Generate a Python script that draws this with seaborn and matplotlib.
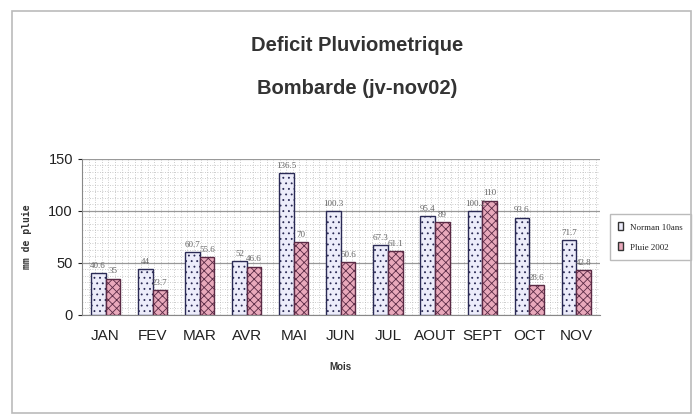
import matplotlib
matplotlib.use("Agg")
import matplotlib.pyplot as plt
import numpy as np
import pandas as pd
import seaborn as sns
from matplotlib.ticker import MultipleLocator, FixedLocator

mois = ['JAN', 'FEV', 'MAR', 'AVR', 'MAI', 'JUN', 'JUL', 'AOUT', 'SEPT', 'OCT', 'NOV']
normale = [40.6, 44, 60.7, 52, 136.5, 100.3, 67.3, 95.4, 100.2, 93.6, 71.7]
pluie = [35, 23.7, 55.6, 46.6, 70, 50.6, 61.1, 89, 110, 28.6, 42.8]
series = ['Norman 10ans', 'Pluie 2002']

df = pd.DataFrame({
    'Mois': mois * 2,
    'val': normale + pluie,
    'serie': [series[0]] * len(mois) + [series[1]] * len(mois),
})

sns.set_style('white')
plt.rcParams['font.family'] = ['Liberation Sans', 'DejaVu Sans']
plt.rcParams['hatch.linewidth'] = 0.6

fig = plt.figure(figsize=(6.97, 4.15), dpi=100)
ax = fig.add_axes([0.1176, 0.241, 0.743, 0.376])

pal = {series[0]: '#ececfa', series[1]: '#e9a9bb'}
sns.barplot(data=df, x='Mois', y='val', hue='serie', palette=pal, width=0.62,
            edgecolor='#2a2a55', linewidth=1.0, saturation=1, ax=ax, legend=True,
            zorder=3)

for i, p in enumerate(ax.patches[:2 * len(mois)]):
    if i >= len(mois):
        p.set_hatch('xxxx')
        p.set_edgecolor('#5a2a45')
        if hasattr(p, 'set_hatchcolor'):
            p.set_hatchcolor('#8a4060')
    else:
        p.set_hatch('...')
        p.set_edgecolor('#2a2a55')
        if hasattr(p, 'set_hatchcolor'):
            p.set_hatchcolor('#b8b8d8')

# value labels
for c in ax.containers:
    for p in c:
        h = p.get_height()
        txt = ('%g' % h)
        ax.text(p.get_x() + p.get_width() / 2, h + 3, txt, ha='center', va='bottom',
                fontsize=6.5, color='#666666', family='Liberation Serif', clip_on=False)

ax.set_ylim(0, 150)
ax.set_xlim(-0.5, 10.5)
ax.yaxis.set_major_locator(MultipleLocator(50))
ax.yaxis.set_minor_locator(MultipleLocator(6.25))
ax.xaxis.set_minor_locator(FixedLocator(np.arange(-0.5, 10.6, 0.14)))
ax.grid(which='minor', color='#bbbbbb', linestyle=(0, (1, 2)), linewidth=0.6, zorder=0)
ax.grid(which='major', axis='y', color='#999999', linewidth=0.9, zorder=1)
ax.grid(which='major', axis='x', visible=False)
ax.set_axisbelow(True)

for s in ['top', 'right']:
    ax.spines[s].set_visible(False)
ax.spines['left'].set_color('#888888')
ax.spines['bottom'].set_color('#888888')

ax.tick_params(axis='x', which='both', length=0, labelsize=11, pad=10, colors='#222222')
ax.tick_params(axis='y', which='major', length=3, labelsize=10.5, colors='#222222', left=True)
ax.tick_params(axis='y', which='minor', length=0)
for t in ax.get_xticklabels():
    t.set_fontstretch('condensed')

ax.set_xlabel('Mois', fontsize=7, fontweight='bold', labelpad=14, color='#333333')
ax.set_ylabel('mm de pluie', fontsize=7, fontweight='bold', labelpad=12,
              color='#333333', family='DejaVu Sans Mono')

leg = ax.legend(loc='center left', bbox_to_anchor=(1.01, 0.5), fontsize=6.5,
                frameon=True, fancybox=False, edgecolor='#aaaaaa', handlelength=0.6,
                handleheight=1.0, borderpad=0.9, labelspacing=1.2,
                prop={'family': 'Liberation Serif', 'size': 6.5})
for h in leg.legend_handles:
    h.set_edgecolor('#333333')

fig.text(0.512, 0.89, 'Deficit Pluviometrique', ha='center', va='center',
         fontsize=14.5, fontweight='bold', color='#333333')
fig.text(0.512, 0.787, 'Bombarde (jv-nov02)', ha='center', va='center',
         fontsize=14.5, fontweight='bold', color='#333333')

# outer frame
fig.patches.append(plt.Rectangle((0.017, 0.005), 0.975, 0.968, transform=fig.transFigure,
                                 fill=False, edgecolor='#bbbbbb', linewidth=1.2))

fig.savefig('out.png', dpi=100, facecolor='white')
